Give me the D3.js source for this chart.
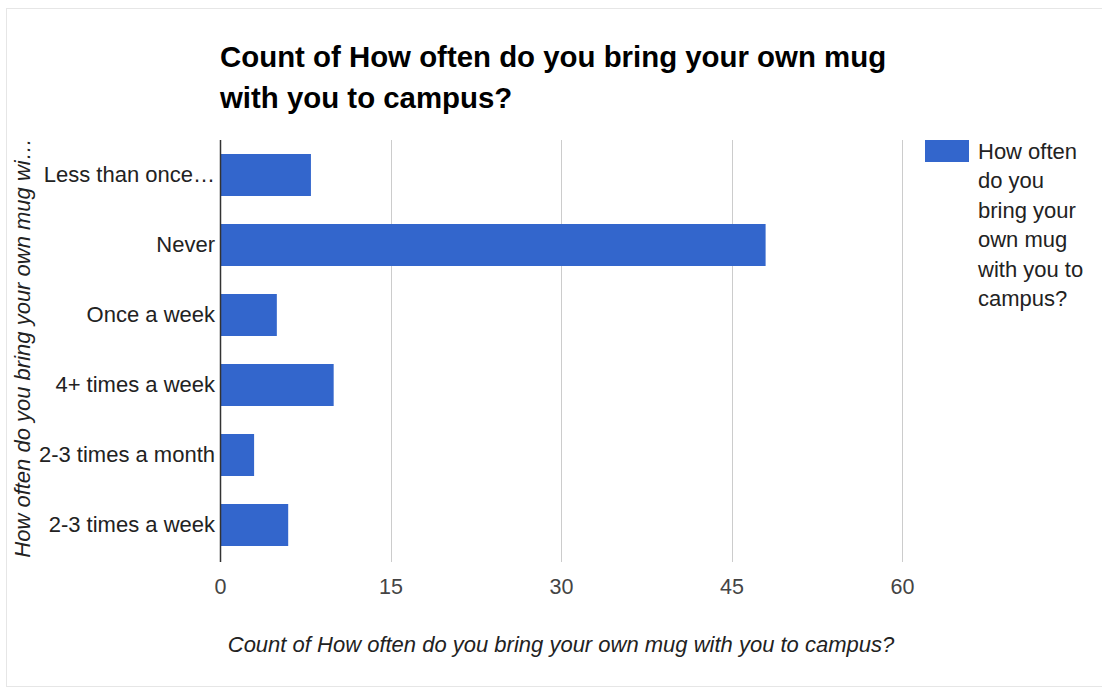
<!DOCTYPE html>
<html>
<head>
<meta charset="utf-8">
<script src="https://cdn.jsdelivr.net/npm/d3@7"></script>
<style>
  html, body { margin: 0; padding: 0; background: #fff; }
  svg { display: block; font-family: "Liberation Sans", Arial, sans-serif; }
</style>
</head>
<body>
<svg id="chart" width="1102" height="690"></svg>
<script>
// Survey answers and their counts
const categories = ["Less than once\u2026", "Never", "Once a week", "4+ times a week", "2-3 times a month", "2-3 times a week"];
const counts = [8, 48, 5, 10, 3, 6];
const xTicks = [0, 15, 30, 45, 60];
const titleLines = ["Count of How often do you bring your own mug", "with you to campus?"];
const xAxisTitle = "Count of How often do you bring your own mug with you to campus?";
const yAxisTitle = "How often do you bring your own mug wi\u2026";
const legendLines = ["How often", "do you", "bring your", "own mug", "with you to", "campus?"];

const svg = d3.select("#chart");
const barColor = "#3366cc";

// outer card border
svg.append("rect")
  .attr("x", 6.5).attr("y", 8.5)
  .attr("width", 1110).attr("height", 678)
  .attr("fill", "#fff").attr("stroke", "#e6e6e6").attr("stroke-width", 1);

const plot = { left: 220, right: 902, top: 140, bottom: 560 };

const x = d3.scaleLinear().domain([0, 60]).range([plot.left, plot.right]);
const y = d3.scaleBand().domain(categories).range([plot.top, plot.bottom]).paddingInner(0.4).paddingOuter(0.2);

// vertical gridlines
svg.append("g").selectAll("line")
  .data(xTicks.filter(d => d !== 0))
  .join("line")
  .attr("x1", d => Math.round(x(d)) + 0.5).attr("x2", d => Math.round(x(d)) + 0.5)
  .attr("y1", plot.top).attr("y2", plot.bottom + 2)
  .attr("stroke", "#cccccc").attr("stroke-width", 1);

// bars
svg.append("g").selectAll("rect")
  .data(categories.map((c, i) => ({ c, v: counts[i] })))
  .join("rect")
  .attr("x", x(0))
  .attr("y", d => y(d.c))
  .attr("width", d => x(d.v) - x(0))
  .attr("height", y.bandwidth())
  .attr("fill", barColor);

// baseline axis
svg.append("line")
  .attr("x1", x(0) + 0.5).attr("x2", x(0) + 0.5)
  .attr("y1", plot.top).attr("y2", plot.bottom + 2)
  .attr("stroke", "#333").attr("stroke-width", 1.5);

// category labels
const yAxis = d3.axisLeft(y).tickSize(0).tickPadding(5);
const yg = svg.append("g").attr("transform", `translate(${plot.left},0)`).call(yAxis);
yg.select(".domain").remove();
yg.selectAll("text")
  .attr("font-size", 22).attr("fill", "#222")
  .attr("font-family", "'Liberation Sans', Arial, sans-serif");

// value axis tick labels
const xAxis = d3.axisBottom(x).tickValues(xTicks).tickSize(0).tickPadding(19);
const xg = svg.append("g").attr("transform", `translate(0,${plot.bottom})`).call(xAxis);
xg.select(".domain").remove();
xg.selectAll("text")
  .attr("font-size", 21.5).attr("fill", "#444")
  .attr("font-family", "'Liberation Sans', Arial, sans-serif");

// title
svg.append("text")
  .attr("x", 220).attr("y", 67)
  .attr("font-size", 29.4).attr("font-weight", "bold").attr("fill", "#000")
  .selectAll("tspan").data(titleLines).join("tspan")
  .attr("x", 220).attr("dy", (d, i) => i === 0 ? 0 : 41)
  .text(d => d);

// x axis title
svg.append("text")
  .attr("x", (plot.left + plot.right) / 2).attr("y", 652)
  .attr("text-anchor", "middle")
  .attr("font-size", 22).attr("font-style", "italic").attr("fill", "#222")
  .text(xAxisTitle);

// y axis title
svg.append("text")
  .attr("transform", `translate(30,${(plot.top + plot.bottom) / 2 - 2}) rotate(-90)`)
  .attr("text-anchor", "middle")
  .attr("font-size", 22).attr("font-style", "italic").attr("fill", "#222")
  .text(yAxisTitle);

// legend
const lg = svg.append("g");
lg.append("rect")
  .attr("x", 925).attr("y", 140).attr("width", 44).attr("height", 22)
  .attr("fill", barColor);
lg.append("text")
  .attr("x", 978).attr("y", 159)
  .attr("font-size", 22).attr("fill", "#222")
  .selectAll("tspan").data(legendLines).join("tspan")
  .attr("x", 978).attr("dy", (d, i) => i === 0 ? 0 : 29.4)
  .text(d => d);
</script>
</body>
</html>
